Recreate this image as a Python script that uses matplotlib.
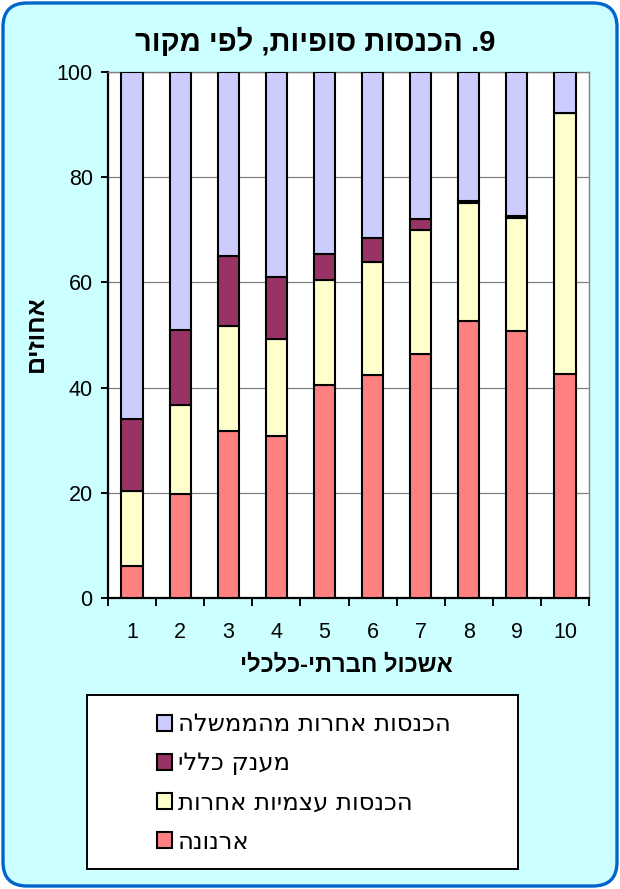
import matplotlib
matplotlib.use('Agg')
import matplotlib.pyplot as plt
from matplotlib.patches import FancyBboxPatch, Rectangle
import numpy as np

categories = ['1', '2', '3', '4', '5', '6', '7', '8', '9', '10']
arnona = [6.1, 19.7, 31.7, 30.8, 40.4, 42.4, 46.3, 52.6, 50.7, 42.6]
own_other = [14.3, 17.0, 20.1, 18.5, 20.0, 21.4, 23.6, 22.5, 21.6, 49.6]
general_grant = [13.7, 14.2, 13.2, 11.8, 5.0, 4.6, 2.2, 0.3, 0.3, 0.0]
gov_other = [65.9, 49.1, 35.0, 38.9, 34.6, 31.6, 27.9, 24.6, 27.4, 7.8]
series_names = ['ארנונה', 'הכנסות עצמיות אחרות', 'מענק כללי', 'הכנסות אחרות מהממשלה']
title = '9. הכנסות סופיות, לפי מקור'
xlabel = 'אשכול חברתי-כלכלי'
ylabel = 'אחוזים'
yticks = [0, 20, 40, 60, 80, 100]

colors = ['#FF8080', '#FFFFCC', '#993366', '#CCCCFF']


def vis(s):
    # visual order for right-to-left text
    return s[::-1]


FONT = ['Liberation Sans', 'DejaVu Sans']
W, H = 620, 889
fig = plt.figure(figsize=(W / 100, H / 100), dpi=100, facecolor='white')

bg = FancyBboxPatch((0.03, 0.03), W / 100 - 0.06, H / 100 - 0.06,
                    boxstyle='round,pad=0,rounding_size=0.24',
                    transform=fig.dpi_scale_trans, facecolor='#CCFFFF',
                    edgecolor='#0066CC', linewidth=2.4, zorder=-10)
fig.patches.append(bg)

ax = fig.add_axes([108 / W, 1 - 598 / H, 481 / W, 526 / H])
ax.set_facecolor('white')

x = np.arange(len(categories)) + 0.5
series = [arnona, own_other, general_grant, gov_other]
bottom = np.zeros(len(categories))
bars = []
for vals, c, name in zip(series, colors, series_names):
    b = ax.bar(x, vals, width=0.44, bottom=bottom, color=c, edgecolor='black',
               linewidth=1.5, label=vis(name), zorder=3)
    bars.append(b)
    bottom = bottom + np.array(vals)

ax.set_xlim(0, len(categories))
ax.set_ylim(0, 100)
ax.set_yticks(yticks)
ax.set_yticklabels([str(t) for t in yticks], fontsize=15.5, family=FONT)
ax.yaxis.grid(True, color='#808080', linewidth=0.9, zorder=0)
ax.set_axisbelow(True)

ax.set_xticks(np.arange(len(categories) + 1))
ax.set_xticklabels([])
ax.set_xticks(x, minor=True)
ax.set_xticklabels(categories, minor=True, fontsize=15.5, family=FONT)
ax.tick_params(axis='x', which='major', direction='out', length=6, width=1.4, color='black')
ax.tick_params(axis='x', which='minor', length=0, pad=17)
ax.tick_params(axis='y', direction='out', length=5, width=1.4, color='black', pad=6)

for s in ['left', 'bottom']:
    ax.spines[s].set_color('black')
    ax.spines[s].set_linewidth(1.6)
for s in ['top', 'right']:
    ax.spines[s].set_color('#808080')
    ax.spines[s].set_linewidth(1.0)

fig.text(315 / W, 1 - 42 / H, vis(title), ha='center', va='center',
         fontsize=21, fontweight='bold', family=FONT)
fig.text(346 / W, 1 - 665 / H, vis(xlabel), ha='center', va='center',
         fontsize=17, fontweight='bold', family=FONT)
fig.text(36 / W, 1 - 334 / H, vis(ylabel), ha='center', va='center',
         rotation=90, fontsize=18, fontweight='bold', family=FONT)

# legend box
fig.patches.append(Rectangle((87 / W, 1 - 869 / H), (518 - 87) / W, (869 - 695) / H,
                             transform=fig.transFigure, facecolor='white',
                             edgecolor='black', linewidth=1.4, zorder=1))
handles = [bars[3], bars[2], bars[1], bars[0]]
labels = [vis(series_names[3]), vis(series_names[2]), vis(series_names[1]), vis(series_names[0])]
leg = fig.legend(handles, labels, loc='center', bbox_to_anchor=(304 / W, 1 - 783 / H),
                 frameon=False, prop={'family': ['DejaVu Sans'], 'size': 17.5},
                 handlelength=0.6, handleheight=0.6, handletextpad=0.25,
                 labelspacing=0.62)
leg.set_zorder(5)

fig.savefig('out.png', dpi=100, facecolor=fig.get_facecolor())
